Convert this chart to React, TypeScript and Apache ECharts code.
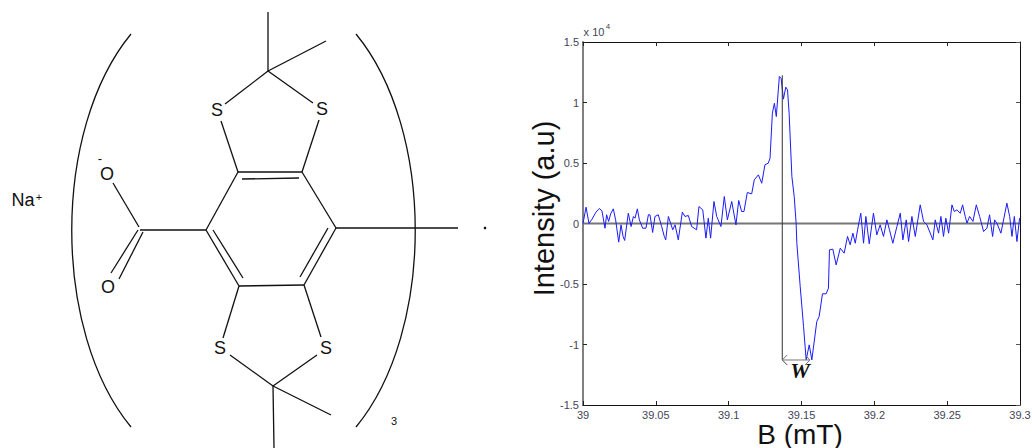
import React, { useEffect, useRef } from "react";
import * as echarts from "echarts";

const fieldValues = [
  39.0, 39.0021, 39.0041, 39.0062, 39.0089, 39.0112, 39.013, 39.0151, 39.0162, 39.0176, 39.019, 39.0208,
  39.0224, 39.0245, 39.0261, 39.0275, 39.0286, 39.0311, 39.033, 39.0346, 39.0357, 39.0373, 39.0387, 39.041,
  39.0432, 39.0449, 39.046, 39.0478, 39.0494, 39.0517, 39.054, 39.0558, 39.0568, 39.0586, 39.0602, 39.0616,
  39.0632, 39.0654, 39.0682, 39.07, 39.0723, 39.0746, 39.078, 39.0796, 39.0822, 39.0844, 39.086, 39.0876,
  39.0899, 39.0918, 39.0947, 39.097, 39.0991, 39.1021, 39.105, 39.1069, 39.1089, 39.1105, 39.1128, 39.1158,
  39.1176, 39.1204, 39.1227, 39.1249, 39.1272, 39.1284, 39.13, 39.1314, 39.1327, 39.1348,
  39.136, 39.1376, 39.1392, 39.1404, 39.1415, 39.1434, 39.145, 39.1463, 39.1468, 39.1491, 39.1514, 39.1532,
  39.1553, 39.1571, 39.1605, 39.1621, 39.1644, 39.1669, 39.1685, 39.1692, 39.1715, 39.1738, 39.1766, 39.1793,
  39.1816, 39.1834, 39.1853, 39.1869, 39.1885, 39.1907, 39.1926, 39.1942, 39.1965, 39.1994, 39.2017, 39.204,
  39.2063, 39.2086, 39.2104, 39.2127, 39.2155, 39.2178, 39.2196, 39.2219, 39.2235, 39.2258, 39.2281, 39.2315,
  39.2338, 39.2361, 39.2402, 39.2418, 39.2441, 39.2457, 39.2475, 39.2491, 39.251, 39.2533, 39.2549, 39.2567,
  39.259, 39.2606, 39.2624, 39.2636, 39.2654, 39.2677, 39.27, 39.2723, 39.275, 39.2773, 39.2791, 39.2812,
  39.2826, 39.2841, 39.2869, 39.291, 39.2929, 39.2945, 39.2961, 39.2979, 39.2997, 39.3,
];
const intensityValues = [
  0.0, 0.135, 0.0, 0.036, 0.094, 0.124, 0.105, -0.039, 0.072, 0.017, 0.08, 0.121,
  0.03, -0.154, -0.011, -0.107, -0.14, 0.085, -0.025, 0.058, 0.044, 0.121, 0.03, -0.039,
  -0.039, 0.072, 0.072, -0.074, 0.058, 0.072, -0.025, -0.107, -0.135, 0.058, 0.0, -0.052,
  -0.011, -0.135, 0.094, 0.058, 0.066, -0.025, -0.052, 0.14, 0.113, -0.121, 0.044, -0.121,
  0.182, 0.058, -0.025, 0.223, 0.03, 0.182, -0.011, 0.19, 0.099, 0.099, 0.256, 0.245,
  0.361, 0.402, 0.333, 0.485, 0.499, 0.54, 0.912, 0.994, 0.884, 1.215,
  1.2, 1.028, 1.127, 1.105, 0.912, 0.388, 0.223, 0.003, -0.163, -0.52, -0.851, -1.127,
  -1.003, -1.127, -0.81, -0.769, -0.581, -0.581, -0.534, -0.218, -0.212, -0.342, -0.204, -0.245,
  -0.107, -0.176, -0.08, -0.163, -0.052, 0.085, -0.163, 0.058, -0.168, 0.085, -0.094, -0.011,
  -0.107, 0.03, -0.052, -0.163, -0.025, 0.085, -0.135, 0.03, -0.149, 0.058, -0.107, 0.154,
  0.017, -0.011, -0.135, 0.03, -0.08, 0.058, -0.107, 0.044, -0.08, 0.154, 0.099, 0.113,
  0.085, 0.154, 0.058, 0.003, 0.058, 0.017, 0.154, 0.058, -0.066, -0.039, 0.072, -0.107,
  0.03, 0.003, -0.08, 0.168, 0.058, -0.107, 0.058, -0.149, 0.044, 0.044,
];

const baselineField = [39, 39.3];
const baselineIntensity = [0, 0];
const peakMarkerField = [39.1368, 39.1368];
const peakMarkerIntensity = [1.225, -1.128];
const widthArrowField = [39.1402, 39.1368, 39.1402, 39.1368, 39.1558, 39.1524, 39.1558, 39.1524];
const widthArrowIntensity = [-1.086, -1.128, -1.17, -1.128, -1.128, -1.086, -1.128, -1.17];

const fieldTicks = ["39", "39.05", "39.1", "39.15", "39.2", "39.25", "39.3"];

// Molecular structure (left panel): bond end points as x1, y1, x2, y2
const bonds = [
  [206, 230, 238, 172], [238, 172, 302, 172], [302, 172, 336, 228], [336, 228, 304, 285],
  [304, 285, 239, 286], [239, 286, 206, 230], [242, 179, 299, 178], [213, 230, 243, 278], [328, 228, 300, 277],
  [238, 172, 221, 121], [225, 104, 268, 71], [313, 103, 268, 71], [319, 120, 302, 172],
  [268, 71, 268, 12], [268, 71, 326, 41],
  [239, 286, 223, 338], [230, 355, 273, 386], [317, 355, 273, 386], [321, 337, 304, 285],
  [273, 386, 274, 448], [273, 386, 331, 415],
  [336, 228, 458, 228], [206, 230, 140, 230], [113, 183, 139, 227], [143, 232, 119, 279], [138, 230, 111, 273],
];
const atoms = [
  ["S", 217, 110], ["S", 322, 109], ["S", 220, 348], ["S", 326, 348], ["O", 107, 174], ["O", 108, 287],
];

const FONT = '"Liberation Sans", Arial, sans-serif';
const INK = "#111111";

export default function App() {
  const ref = useRef<HTMLDivElement>(null);
  useEffect(() => {
    const chart = echarts.init(ref.current!, null, { renderer: "svg" });
    const zip = (xs: number[], ys: number[]) => xs.map((x, i) => [x, ys[i]]);
    const plain = (name: string, data: number[][], color: string, width: number, z: number) => ({
      name,
      type: "line",
      data,
      symbol: "none",
      silent: true,
      z,
      lineStyle: { color, width },
    });
    const labelStyle = { color: "#444455", fontSize: 11, fontFamily: FONT };
    const text = (t: string, x: number, y: number, size: number, extra: any = {}) => ({
      type: "text",
      x,
      y,
      silent: true,
      style: {
        text: t,
        fontSize: size,
        fontFamily: FONT,
        fill: INK,
        textAlign: "center",
        textVerticalAlign: "middle",
        ...extra,
      },
    });
    const stroke = { stroke: INK, lineWidth: 1.3, fill: "none" };
    const option: any = {
      animation: false,
      backgroundColor: "#ffffff",
      grid: { left: 583, top: 42, width: 437, height: 363, containLabel: false, outerBoundsMode: "none" },
      xAxis: [
        {
          type: "value",
          min: 39,
          max: 39.3,
          interval: 0.05,
          position: "bottom",
          name: "B (mT)",
          nameLocation: "middle",
          nameGap: 15,
          nameMoveOverlap: false,
          nameTextStyle: { fontSize: 28, fontFamily: FONT, color: "#111", padding: [0, 3, 0, 0] },
          axisLine: { onZero: false, lineStyle: { color: "#111", width: 1 } },
          axisTick: { inside: true, length: 4, lineStyle: { color: "#222" } },
          axisLabel: {
            ...labelStyle,
            margin: 4,
            formatter: (_: number, i: number) => fieldTicks[i],
            showMinLabel: true,
            showMaxLabel: true,
            hideOverlap: false,
          },
          splitLine: { show: false },
        },
        {
          type: "value",
          min: 39,
          max: 39.3,
          interval: 0.05,
          position: "top",
          axisLine: { onZero: false, lineStyle: { color: "#111", width: 1 } },
          axisTick: { inside: true, length: 4, lineStyle: { color: "#222" } },
          axisLabel: { show: false },
          splitLine: { show: false },
        },
      ],
      yAxis: [
        {
          type: "value",
          min: -1.5,
          max: 1.5,
          interval: 0.5,
          position: "left",
          name: "Intensity (a.u)",
          nameLocation: "middle",
          nameGap: 25,
          nameMoveOverlap: false,
          nameRotate: 90,
          nameTextStyle: { fontSize: 29, fontFamily: FONT, color: "#111", padding: [0, 0, 0, 30] },
          axisLine: { onZero: false, lineStyle: { color: "#808080", width: 2 } },
          axisTick: { inside: true, length: 4, lineStyle: { color: "#222" } },
          axisLabel: { ...labelStyle, margin: 4, showMinLabel: true, showMaxLabel: true, hideOverlap: false },
          splitLine: { show: false },
        },
        {
          type: "value",
          min: -1.5,
          max: 1.5,
          interval: 0.5,
          position: "right",
          axisLine: { onZero: false, lineStyle: { color: "#111", width: 1 } },
          axisTick: { inside: true, length: 4, lineStyle: { color: "#555" } },
          axisLabel: { show: false },
          splitLine: { show: false },
        },
      ],
      series: [
        plain("baseline", zip(baselineField, baselineIntensity), "#777777", 2, 2),
        plain("signal", zip(fieldValues, intensityValues), "#1a1aff", 1, 3),
        plain("peak marker", zip(peakMarkerField, peakMarkerIntensity), "#333333", 1, 4),
        plain("width arrow", zip(widthArrowField, widthArrowIntensity), "#777777", 1, 4),
      ],
      graphic: {
        elements: [
          ...bonds.map(([x1, y1, x2, y2]) => ({
            type: "line",
            silent: true,
            shape: { x1, y1, x2, y2 },
            style: stroke,
          })),
          {
            type: "bezierCurve",
            silent: true,
            shape: { x1: 131, y1: 34, cpx1: 52, cpy1: 130, cpx2: 52, cpy2: 331, x2: 131, y2: 427 },
            style: stroke,
          },
          {
            type: "bezierCurve",
            silent: true,
            shape: { x1: 356, y1: 34, cpx1: 435, cpy1: 130, cpx2: 435, cpy2: 331, x2: 356, y2: 427 },
            style: stroke,
          },
          { type: "circle", silent: true, shape: { cx: 485, cy: 228, r: 1.3 }, style: { fill: INK } },
          ...atoms.map(([t, x, y]) => text(t as string, x as number, y as number, 18)),
          text("-", 100, 158, 13),
          text("Na", 23, 200, 18),
          text("+", 39, 197, 11),
          text("3", 394, 421, 11),
          text("x 10", 594, 32, 11, { fill: "#444455" }),
          text("4", 608, 26, 8, { fill: "#444455" }),
          text("W", 800, 370, 22, {
            fontFamily: '"Liberation Serif", "Times New Roman", serif',
            fontWeight: "bold",
            fontStyle: "italic",
          }),
        ],
      },
    };
    chart.setOption(option);
    return () => chart.dispose();
  }, []);
  return (
    <div
      ref={ref}
      style={{ position: "fixed", left: 0, top: 0, width: 1032, height: 448, background: "#fff" }}
    />
  );
}
